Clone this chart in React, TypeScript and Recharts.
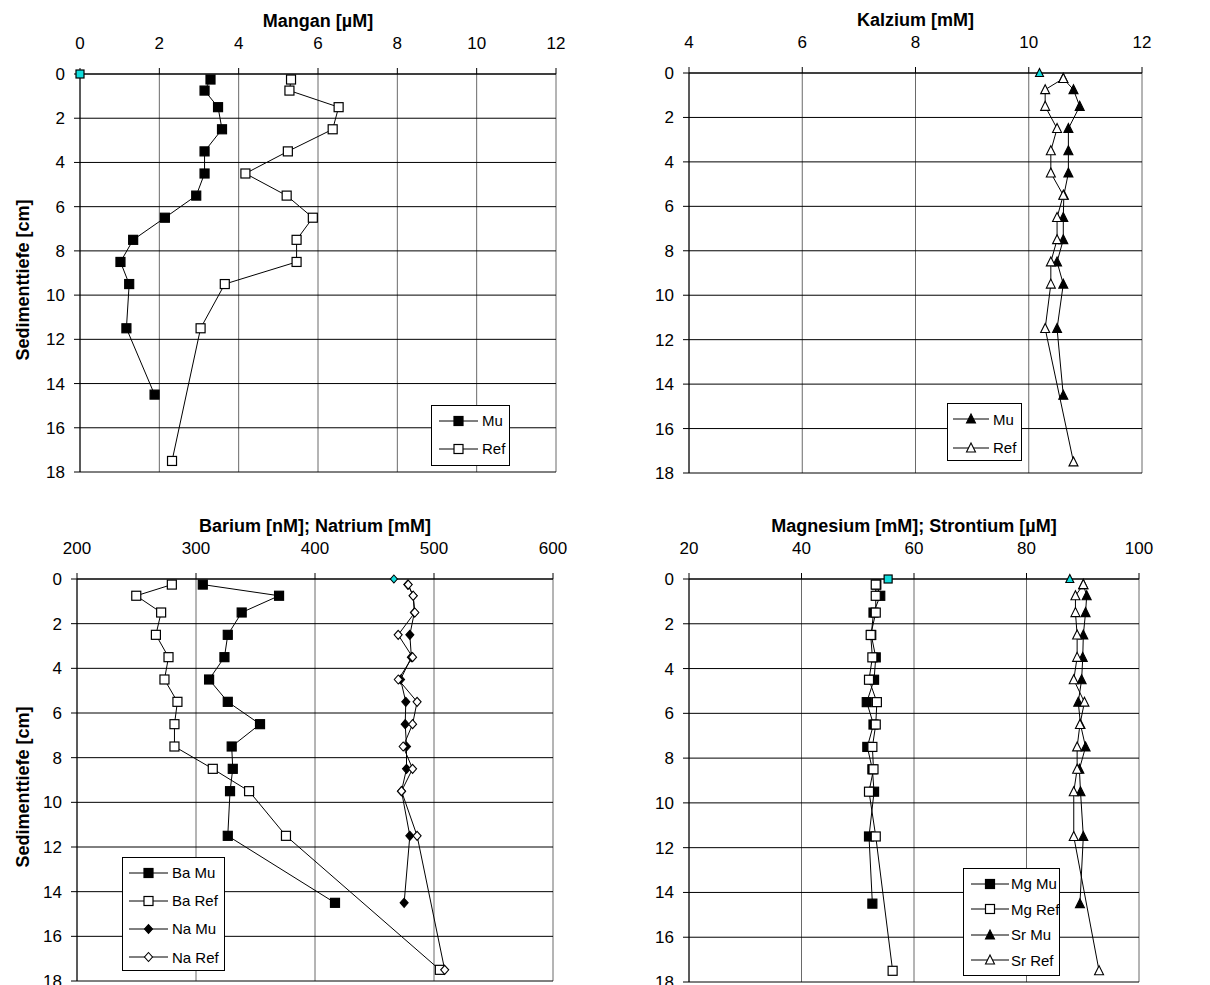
import { ScatterChart, Scatter, XAxis, YAxis, CartesianGrid } from 'recharts'

const FONT = '"Liberation Sans", Arial, sans-serif'
const CYAN = '#11dddd'

// depths of the pore water samples (cm)
const DEPTH_MU = [0.25, 0.75, 1.5, 2.5, 3.5, 4.5, 5.5, 6.5, 7.5, 8.5, 9.5, 11.5, 14.5]
const DEPTH_REF = [0.25, 0.75, 1.5, 2.5, 3.5, 4.5, 5.5, 6.5, 7.5, 8.5, 9.5, 11.5, 17.5]
const DEPTH_TICKS = [0, 2, 4, 6, 8, 10, 12, 14, 16, 18]
const SURFACE_DEPTH = 0

// Mangan [µM]
const MN_TICKS = [0, 2, 4, 6, 8, 10, 12]
const MN_MU = [3.29, 3.14, 3.48, 3.58, 3.14, 3.14, 2.93, 2.14, 1.34, 1.02, 1.24, 1.17, 1.88]
const MN_REF = [5.32, 5.28, 6.52, 6.37, 5.24, 4.17, 5.21, 5.87, 5.46, 5.46, 3.65, 3.04, 2.32]
const MN_SURFACE = 0

// Kalzium [mM]
const CA_TICKS = [4, 6, 8, 10, 12]
const CA_MU = [10.61, 10.79, 10.9, 10.7, 10.7, 10.7, 10.62, 10.61, 10.61, 10.5, 10.61, 10.5, 10.61]
const CA_REF = [10.61, 10.29, 10.29, 10.5, 10.39, 10.39, 10.61, 10.5, 10.5, 10.39, 10.39, 10.29, 10.79]
const CA_SURFACE = 10.19

// Barium [nM]; Natrium [mM]
const BA_NA_TICKS = [200, 300, 400, 500, 600]
const BA_MU = [305.7, 369.8, 338.4, 326.7, 323.9, 311, 326.7, 353.8, 330, 330.9, 328.6, 326.7, 416.8]
const BA_REF = [279.7, 249.8, 270.7, 266.3, 276.9, 273.5, 284.4, 281.9, 281.9, 314.1, 344.6, 375.6, 504.9]
const NA_MU = [478, 482.5, 483.5, 479.7, 481, 471.9, 476.3, 475.8, 476.9, 476.9, 472.7, 479.7, 474.9]
const NA_REF = [478.3, 482.5, 483.9, 469.9, 482, 470, 485.8, 482, 474.1, 482, 472.7, 485.8, 509]
const NA_SURFACE = 466.3

// Magnesium [mM]; Strontium [µM]
const MG_SR_TICKS = [20, 40, 60, 80, 100]
const MG_MU = [53.3, 54.0, 52.8, 52.4, 53.2, 52.9, 51.6, 52.8, 51.7, 52.6, 52.9, 52.0, 52.6]
const MG_REF = [53.2, 53.2, 53.2, 52.3, 52.6, 52.0, 53.4, 53.2, 52.6, 52.8, 52.0, 53.2, 56.2]
const SR_MU = [90.1, 90.7, 90.5, 90.1, 90.0, 89.8, 89.2, 89.6, 90.5, 89.4, 89.6, 90.1, 89.5]
const SR_REF = [90.1, 88.7, 88.7, 89.0, 89.0, 88.4, 90.3, 89.5, 89.0, 89.0, 88.4, 88.4, 92.9]
const MG_SURFACE = 55.4
const SR_SURFACE = 87.7

type Kind = 'square' | 'triangle' | 'diamond'

interface Series {
  name: string
  kind: Kind
  fill: string
  points: { x: number; y: number }[]
  line: boolean
  size?: number
}

interface LegendItem {
  label: string
  kind: Kind
  fill: string
}

const toPoints = (vals: number[], depths: number[]) => vals.map((x, i) => ({ x, y: depths[i] }))

function marker(kind: Kind, fill: string, cx: number, cy: number, size = 9) {
  const h = size / 2
  if (kind === 'square') {
    return <rect x={cx - h} y={cy - h} width={size} height={size} fill={fill} stroke="#000" strokeWidth={1.2} />
  }
  if (kind === 'triangle') {
    const pts = `${cx},${cy - h - 0.5} ${cx - h},${cy + h - 0.5} ${cx + h},${cy + h - 0.5}`
    return <polygon points={pts} fill={fill} stroke="#000" strokeWidth={1.1} strokeLinejoin="miter" />
  }
  const pts = `${cx},${cy - h} ${cx + h - 0.5},${cy} ${cx},${cy + h} ${cx - h + 0.5},${cy}`
  return <polygon points={pts} fill={fill} stroke="#000" strokeWidth={1.1} />
}

const muRef = (kind: Kind, prefix: string, mu: number[], ref: number[]): Series[] => [
  { name: `${prefix}Mu`, kind, fill: '#000', points: toPoints(mu, DEPTH_MU), line: true },
  { name: `${prefix}Ref`, kind, fill: '#fff', points: toPoints(ref, DEPTH_REF), line: true },
]

const surface = (kind: Kind, x: number): Series => ({
  name: 'surface', kind, fill: CYAN, points: [{ x, y: SURFACE_DEPTH }], line: false, size: 8,
})

interface PanelProps {
  left: number
  top: number
  width: number
  height: number
  margin: { top: number; right: number; bottom: number; left: number }
  title: string
  ticks: number[]
  series: Series[]
  yLabel?: boolean
}

const yLabelContent = (props: any) => {
  const vb = props.viewBox
  const cx = 29
  const cy = vb.y + vb.height / 2 + 7
  return (
    <text x={cx} y={cy} transform={`rotate(-90 ${cx} ${cy})`} textAnchor="middle"
      fontSize={18} fontWeight="bold" fill="#000" fontFamily={FONT}>
      Sedimenttiefe [cm]
    </text>
  )
}

function Panel({ left, top, width, height, margin, title, ticks, series, yLabel }: PanelProps) {
  return (
    <div style={{ position: 'absolute', left, top }}>
      <ScatterChart width={width} height={height} margin={margin} style={{ fontFamily: FONT }}>
        <CartesianGrid horizontal={false} stroke="#6a6a6a" />
        <CartesianGrid vertical={false} stroke="#000" />
        <XAxis
          type="number" dataKey="x" orientation="top"
          domain={[ticks[0], ticks[ticks.length - 1]]} ticks={ticks} interval={0}
          height={30} tickSize={6} tickMargin={19}
          tick={{ fontSize: 17, fill: '#000' }}
          axisLine={{ stroke: '#000' }} tickLine={{ stroke: '#000' }}
          label={{ value: title, position: 'top', offset: 17, style: { fontSize: 18, fontWeight: 'bold', fill: '#000' } }}
        />
        <YAxis
          type="number" dataKey="y" reversed domain={[0, 18]} ticks={DEPTH_TICKS} interval={0}
          width={60} tickSize={6} tickMargin={9}
          tick={{ fontSize: 17, fill: '#000' }}
          axisLine={{ stroke: '#000' }} tickLine={{ stroke: '#000' }}
          label={yLabel ? { content: yLabelContent } : undefined}
        />
        {series.map(s => (
          <Scatter
            key={s.name}
            name={s.name}
            data={s.points}
            fill={s.fill}
            line={s.line ? { stroke: '#000', strokeWidth: 1 } : false}
            shape={(p: any) => marker(s.kind, s.fill, p.cx, p.cy, s.size)}
            isAnimationActive={false}
          />
        ))}
      </ScatterChart>
    </div>
  )
}

interface LegendProps {
  left: number
  top: number
  width: number
  height: number
  row0: number
  gap: number
  lineX0: number
  lineX1: number
  textX: number
  items: LegendItem[]
}

function LegendBox({ left, top, width, height, row0, gap, lineX0, lineX1, textX, items }: LegendProps) {
  return (
    <div style={{
      position: 'absolute', left, top, width, height, boxSizing: 'border-box',
      border: '1px solid #000', background: '#fff', fontFamily: FONT, fontSize: 15,
    }}>
      {items.map((it, i) => {
        const cy = row0 + i * gap
        return (
          <div key={it.label} style={{ position: 'absolute', left: 0, top: cy - 11, height: 22, width, display: 'flex', alignItems: 'center' }}>
            <svg width={textX} height={22} style={{ flex: 'none' }}>
              <line x1={lineX0} x2={lineX1} y1={11} y2={11} stroke="#000" strokeWidth={1} />
              {marker(it.kind, it.fill, (lineX0 + lineX1) / 2, 11)}
            </svg>
            <span style={{ whiteSpace: 'nowrap', color: '#000' }}>{it.label}</span>
          </div>
        )
      })}
    </div>
  )
}

export default function App() {
  const mnSeries = [...muRef('square', '', MN_MU, MN_REF), surface('square', MN_SURFACE)]
  const caSeries = [...muRef('triangle', '', CA_MU, CA_REF), surface('triangle', CA_SURFACE)]
  const baNaSeries = [
    ...muRef('square', 'Ba ', BA_MU, BA_REF),
    ...muRef('diamond', 'Na ', NA_MU, NA_REF),
    surface('diamond', NA_SURFACE),
  ]
  const mgSrSeries = [
    ...muRef('square', 'Mg ', MG_MU, MG_REF),
    ...muRef('triangle', 'Sr ', SR_MU, SR_REF),
    { ...surface('square', MG_SURFACE), name: 'surfaceMg' },
    { ...surface('triangle', SR_SURFACE), name: 'surfaceSr' },
  ]

  return (
    <div style={{ position: 'absolute', left: 0, top: 0, width: 1210, height: 985, background: '#fff', overflow: 'hidden' }}>
      <Panel left={0} top={0} width={600} height={490}
        margin={{ top: 44, right: 44, bottom: 18, left: 20 }}
        title="Mangan [µM]" ticks={MN_TICKS} series={mnSeries} yLabel />
      <Panel left={600} top={0} width={610} height={490}
        margin={{ top: 43, right: 68, bottom: 17, left: 29 }}
        title="Kalzium [mM]" ticks={CA_TICKS} series={caSeries} />
      <Panel left={0} top={490} width={600} height={495}
        margin={{ top: 59, right: 47, bottom: 4, left: 17 }}
        title="Barium [nM]; Natrium [mM]" ticks={BA_NA_TICKS} series={baNaSeries} yLabel />
      <Panel left={600} top={490} width={610} height={495}
        margin={{ top: 59, right: 71, bottom: 3, left: 29 }}
        title="Magnesium [mM]; Strontium [µM]" ticks={MG_SR_TICKS} series={mgSrSeries} />

      <LegendBox left={431} top={405} width={79} height={61} row0={14.5} gap={28}
        lineX0={7} lineX1={46} textX={50}
        items={[{ label: 'Mu', kind: 'square', fill: '#000' }, { label: 'Ref', kind: 'square', fill: '#fff' }]} />
      <LegendBox left={947} top={403} width={75} height={58} row0={15} gap={28.5}
        lineX0={5} lineX1={41} textX={45}
        items={[{ label: 'Mu', kind: 'triangle', fill: '#000' }, { label: 'Ref', kind: 'triangle', fill: '#fff' }]} />
      <LegendBox left={122} top={857} width={103} height={114} row0={14.7} gap={28.1}
        lineX0={6} lineX1={45} textX={49}
        items={[
          { label: 'Ba Mu', kind: 'square', fill: '#000' },
          { label: 'Ba Ref', kind: 'square', fill: '#fff' },
          { label: 'Na Mu', kind: 'diamond', fill: '#000' },
          { label: 'Na Ref', kind: 'diamond', fill: '#fff' },
        ]} />
      <LegendBox left={963} top={868} width={97} height={108} row0={14.7} gap={25.5}
        lineX0={7} lineX1={45} textX={47}
        items={[
          { label: 'Mg Mu', kind: 'square', fill: '#000' },
          { label: 'Mg Ref', kind: 'square', fill: '#fff' },
          { label: 'Sr Mu', kind: 'triangle', fill: '#000' },
          { label: 'Sr Ref', kind: 'triangle', fill: '#fff' },
        ]} />
    </div>
  )
}
